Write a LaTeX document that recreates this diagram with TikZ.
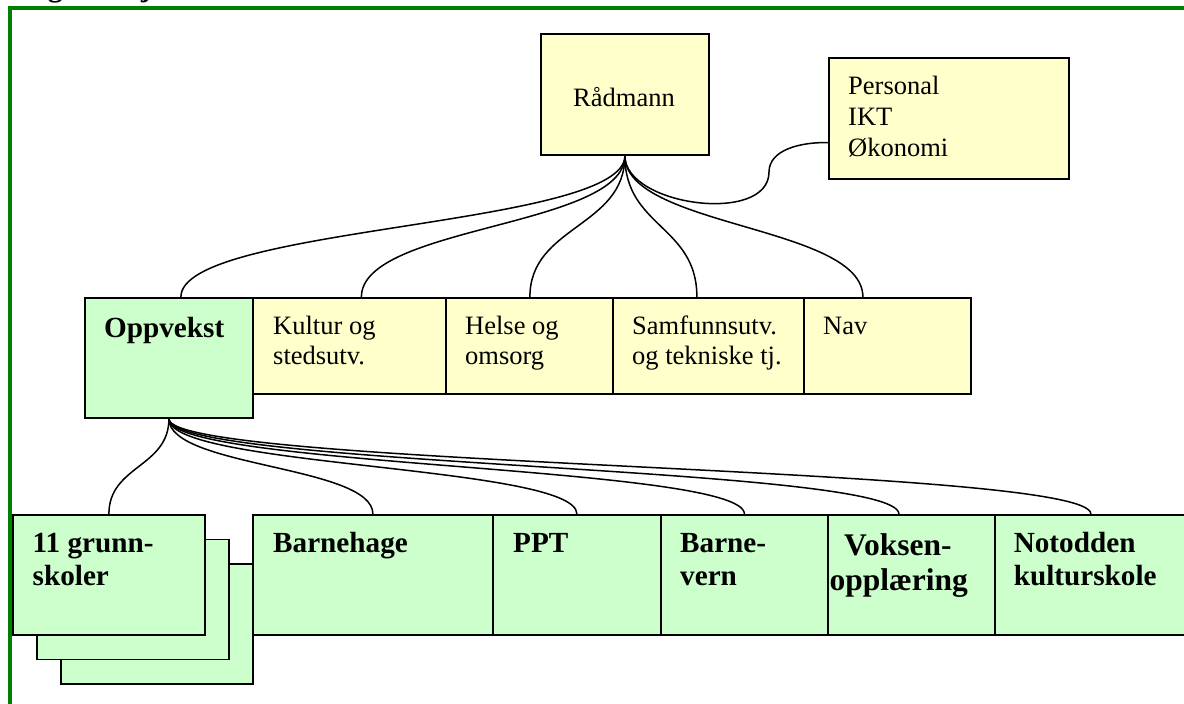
\documentclass[tikz,border=0pt]{standalone}
\usepackage{fontspec}
\setmainfont{Liberation Serif}
\usetikzlibrary{calc}
\definecolor{boxyellow}{HTML}{FFFFCC}
\definecolor{boxgreen}{HTML}{CCFFCC}
\definecolor{framegreen}{HTML}{008000}
\tikzset{
  orgbox/.style={draw=black, line width=1.8pt, rectangle, inner sep=0pt, anchor=north west},
  ybox/.style={orgbox, fill=boxyellow},
  gbox/.style={orgbox, fill=boxgreen},
  txt/.style={inner sep=0pt, anchor=base west, font=\fontsize{26.5}{30}\selectfont},
  btxt/.style={inner sep=0pt, anchor=base west, font=\fontsize{29.2}{33}\selectfont\bfseries},
  vtxt/.style={inner sep=0pt, anchor=base west, font=\fontsize{31.5}{36}\selectfont\bfseries},
  link/.style={draw=black, line width=1.5pt},
  topfan/.style={link, to path={.. controls +(0,71.5) and +(0,-71.5) .. (\tikztotarget)}},
  botfan/.style={link, to path={.. controls +(0,48.5) and +(0,-48.5) .. (\tikztotarget)}},
  frameline/.style={draw=framegreen, line width=4pt},
}
\begin{document}
\begin{tikzpicture}[x=1pt, y=-1pt]
\useasboundingbox (0,0) rectangle (1184,704);
\clip (0,0) rectangle (1184,704);
\fill[white] (0,0) rectangle (1184,704);

% title (cut off at the top)
\node[anchor=base west, inner sep=0pt, font=\fontsize{30}{36}\selectfont\bfseries] (title) at (11,-3.2) {Organisasjonskart};

% frame
\draw[frameline] (10,720) -- (10,8) -- (1200,8);

% top level
\node[ybox, minimum width=168pt, minimum height=121pt] (rad) at (540,33) {};
\node[ybox, minimum width=240pt, minimum height=121pt] (per) at (828,57) {};
\node[txt, anchor=base] (radT) at (624,106) {Rådmann};
\node[txt] (perT1) at (848,94) {Personal};
\node[txt] (perT2) at (848,125) {IKT};
\node[txt] (perT3) at (848,156) {Økonomi};

% middle level
\node[gbox, minimum width=168pt, minimum height=120pt] (opp) at (84,297) {};
\node[ybox, minimum width=193pt, minimum height=96pt] (kul) at (252,297) {};
\node[ybox, minimum width=167pt, minimum height=96pt] (hel) at (445,297) {};
\node[ybox, minimum width=191pt, minimum height=96pt] (sam) at (612,297) {};
\node[ybox, minimum width=167pt, minimum height=96pt] (nav) at (803,297) {};
\node[btxt] (oppT) at (104,337) {Oppvekst};
\node[txt] (kulT1) at (273,334) {Kultur og};
\node[txt] (kulT2) at (273,364) {stedsutv.};
\node[txt] (helT1) at (465,334) {Helse og};
\node[txt] (helT2) at (465,364) {omsorg};
\node[txt] (samT1) at (632,334) {Samfunnsutv.};
\node[txt] (samT2) at (632,364) {og tekniske tj.};
\node[txt] (navT) at (823,334) {Nav};

% bottom level
\node[gbox, minimum width=192pt, minimum height=120pt] (skC) at (60,563) {};
\node[gbox, minimum width=192pt, minimum height=120pt] (skB) at (36,538.5) {};
\node[gbox, minimum width=192pt, minimum height=120pt] (skA) at (12,514) {};
\node[gbox, minimum width=240pt, minimum height=120pt] (bhg) at (252,514) {};
\node[gbox, minimum width=168pt, minimum height=120pt] (ppt) at (492,514) {};
\node[gbox, minimum width=192pt, minimum height=120pt] (vo) at (802,514) {};
\node[gbox, minimum width=167pt, minimum height=120pt] (bv) at (660,514) {};
\node[gbox, minimum width=192pt, minimum height=120pt] (nk) at (994,514) {};
\node[btxt] (skT1) at (32.5,552) {11 grunn-};
\node[btxt] (skT2) at (32.5,585) {skoler};
\node[btxt] (bhgT) at (273,552) {Barnehage};
\node[btxt] (pptT) at (513,552) {PPT};
\node[btxt] (bvT1) at (680,552) {Barne-};
\node[btxt] (bvT2) at (680,585) {vern};
\node[vtxt] (voT1) at (844,555) {Voksen-};
\node[vtxt] (voT2) at (829.5,590) {opplæring};
\node[btxt] (nkT1) at (1013.6,552) {Notodden};
\node[btxt] (nkT2) at (1013.6,585) {kulturskole};

% connector end points
\coordinate (inOpp) at ([xshift=12pt]opp.north);
\coordinate (inKul) at ([xshift=12pt]kul.north);
\coordinate (inHel) at ([xshift=0.5pt]hel.north);
\coordinate (inSam) at ([xshift=-11.5pt]sam.north);
\coordinate (inNav) at ([xshift=-24.5pt]nav.north);
\coordinate (inPer) at ([yshift=-24.2pt]per.west);

% connectors from Rådmann
\foreach \t in {inOpp,inKul,inHel,inSam,inNav}
  \draw[topfan] (rad.south) to (\t);
\draw[link] (rad.south) .. controls +(0,50) and (769,225) .. (769,172)
  .. controls (769,150) and (800,142) .. (inPer);

% connectors from Oppvekst
\foreach \t in {skA,bhg,ppt,bv,vo,nk}
  \draw[botfan] (opp.south) to (\t.north);
\end{tikzpicture}
\end{document}
